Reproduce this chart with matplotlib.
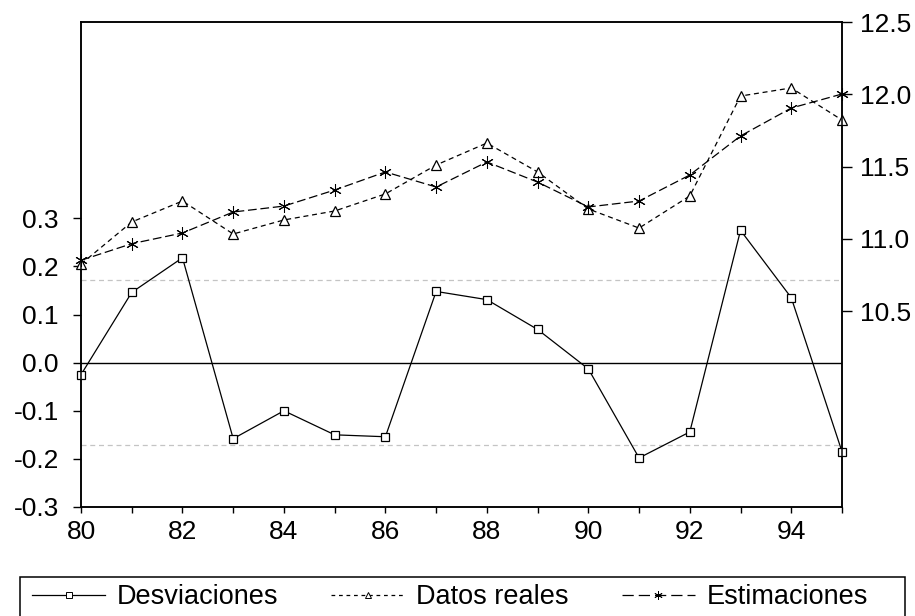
import matplotlib
matplotlib.use('Agg')
import matplotlib.pyplot as plt
from matplotlib.lines import Line2D
from matplotlib.patches import Rectangle

plt.rcParams['font.family'] = ['Liberation Sans', 'DejaVu Sans']

years = list(range(80, 96))
desviaciones = [-0.025, 0.146, 0.218, -0.158, -0.100, -0.150, -0.154, 0.148,
                0.131, 0.069, -0.013, -0.198, -0.144, 0.275, 0.135, -0.185]
datos_reales = [10.826, 11.117, 11.262, 11.034, 11.131, 11.193, 11.311, 11.511,
                11.663, 11.463, 11.207, 11.075, 11.297, 11.988, 12.044, 11.822]
estimaciones = [10.852, 10.967, 11.041, 11.186, 11.227, 11.338, 11.463, 11.359,
                11.532, 11.393, 11.221, 11.262, 11.442, 11.712, 11.905, 12.002]
error_std = 0.171

asterisco = (6, 2, 0)

fig = plt.figure(figsize=(9.15, 6.16), dpi=100)
ax = fig.add_axes([81/915, 1-507/616, (842-81)/915, (507-22)/616])
ax2 = ax.twinx()

# residuos en el eje izquierdo
ax.axhline(0, color='black', lw=1)
ax.axhline(error_std, color='#c4c4c4', lw=0.9, ls=(0, (4, 3)))
ax.axhline(-error_std, color='#c4c4c4', lw=0.9, ls=(0, (4, 3)))
ax.plot(years, desviaciones, color='black', lw=0.9, marker='s', ms=6,
        mfc='white', mec='black', mew=0.9, clip_on=False, zorder=3)
ax.set_ylim(-0.3, 0.708)
ax.set_yticks([-0.3, -0.2, -0.1, 0.0, 0.1, 0.2, 0.3])
ax.set_yticklabels(['-0.3', '-0.2', '-0.1', '0.0', '0.1', '0.2', '0.3'])

# datos reales y estimaciones en el eje derecho
ax2.plot(years, datos_reales, color='black', lw=0.9, ls=(0, (4, 3)), marker='^',
         ms=7, mfc='white', mec='black', mew=0.9, clip_on=False)
ax2.plot(years, estimaciones, color='black', lw=0.9, ls=(0, (7, 3)), marker=asterisco,
         ms=9, mec='black', mew=0.75, clip_on=False)
ax2.set_ylim(9.146, 12.5)
ax2.set_yticks([10.5, 11.0, 11.5, 12.0, 12.5])
ax2.set_yticklabels(['10.5', '11.0', '11.5', '12.0', '12.5'])

ax.set_xlim(80, 95)
ax.set_xticks(list(range(80, 96, 2)))
ax.set_xticks(years, minor=True)
ax.set_xticklabels([str(y) for y in range(80, 96, 2)])

for a in (ax, ax2):
    for s in a.spines.values():
        s.set_linewidth(1.1)
ax.tick_params(axis='y', direction='out', length=6, width=1, labelsize=19, pad=10)
ax2.tick_params(axis='y', direction='out', length=7, width=1, labelsize=19, pad=6)
ax.tick_params(axis='x', which='both', direction='out', length=4.5, width=1,
               labelsize=19, pad=5)

# leyenda con marco propio
fig.patches.append(Rectangle((20/915, -0.02), 885/915, 0.02 + (616-577)/616,
                             transform=fig.transFigure, fill=False,
                             edgecolor='black', lw=1.1))
handles = [
    Line2D([], [], color='black', lw=0.9, marker='s', ms=4, mfc='white', mec='black', mew=0.7),
    Line2D([], [], color='black', lw=0.9, ls=(0, (3, 3)), marker='^', ms=4, mfc='white', mec='black', mew=0.7),
    Line2D([], [], color='black', lw=0.9, ls=(0, (9, 4)), marker=asterisco, ms=6, mec='black', mew=0.6),
]
labels = ['Desviaciones', 'Datos reales', 'Estimaciones']
leg = fig.legend(handles, labels, loc='center left',
                 bbox_to_anchor=(32/915, 1-597/616), ncol=3, frameon=False,
                 fontsize=19.5, handlelength=2.7, handletextpad=0.44,
                 columnspacing=1.95, borderpad=0, borderaxespad=0)

fig.savefig('out.png', dpi=100)
